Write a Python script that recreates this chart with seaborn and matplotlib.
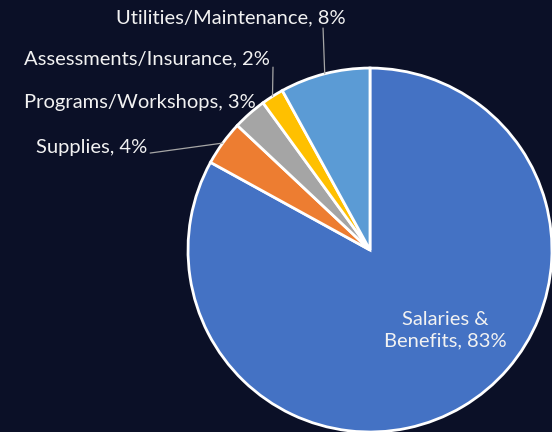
""" budget breakdown pie chart on a dark background """

import numpy as np
import matplotlib.pyplot as plt  # matplotlib graphing capabilities
from matplotlib.patches import Rectangle
import seaborn as sns  # seaborn styling

# ~~~~~~~~~  Data  ~~~~~~~~~~~~~~~~~~~~~~~~~~~~~~~~~~~~~~~~~~~~~~~~~~~~~~~~~~~ #
categories = ['Salaries &\nBenefits', 'Supplies', 'Programs/Workshops',
              'Assessments/Insurance', 'Utilities/Maintenance']
shares = [83, 4, 3, 2, 8]  # percent of budget
colors = ['#4472C4', '#ED7D31', '#A5A5A5', '#FFC000', '#5B9BD5']

# label layout (data units, pie radius = 1)
label_xy = [(0.412, -0.44), (-1.530, 0.566), (-1.266, 0.808),
            (-1.228, 1.049), (-0.764, 1.275)]
leader_from = [None, (-1.208, 0.533), None, (-0.533, 1.005), (-0.258, 1.220)]

# ~~~~~~~~~  Plot  ~~~~~~~~~~~~~~~~~~~~~~~~~~~~~~~~~~~~~~~~~~~~~~~~~~~~~~~~~~~~ #
sns.set_style('dark')
bg = '#0b1027'
plt.rcParams['font.family'] = ['Lato', 'DejaVu Sans']

fig = plt.figure(figsize=(5.52, 4.32), dpi=100, facecolor=bg)
ax = fig.add_axes([0, 0, 1, 1])
ax.set_facecolor(bg)

wedges, _ = ax.pie(shares, colors=colors, startangle=90, counterclock=False,
                   radius=1.0, wedgeprops=dict(edgecolor='white', linewidth=2))

ax.set_xlim(-2.033, 1.0)
ax.set_ylim(-1.0, 1.374)
ax.set_aspect('equal')
ax.axis('off')

# labels with leader lines to the middle of each wedge edge
text_color = '#f2f2f2'
for wedge, name, pct, xy, start in zip(wedges, categories, shares, label_xy, leader_from):
    mid = np.deg2rad((wedge.theta1 + wedge.theta2) / 2)
    edge = (np.cos(mid), np.sin(mid))
    txt = ax.text(xy[0], xy[1], f'{name}, {pct}%', color=text_color, fontsize=14.5,
                  ha='center', va='center', linespacing=1.35)
    if name == 'Programs/Workshops':
        # bottom of this label is cut off in the original
        clip = Rectangle((-2.1, 0.778), 4, 1, transform=ax.transData)
        txt.set_clip_path(clip)
    if start is not None:
        ax.plot([start[0], edge[0]], [start[1], edge[1]], color='#a6a6a6', lw=0.9)

fig.savefig('out.png', dpi=100, facecolor=bg)
